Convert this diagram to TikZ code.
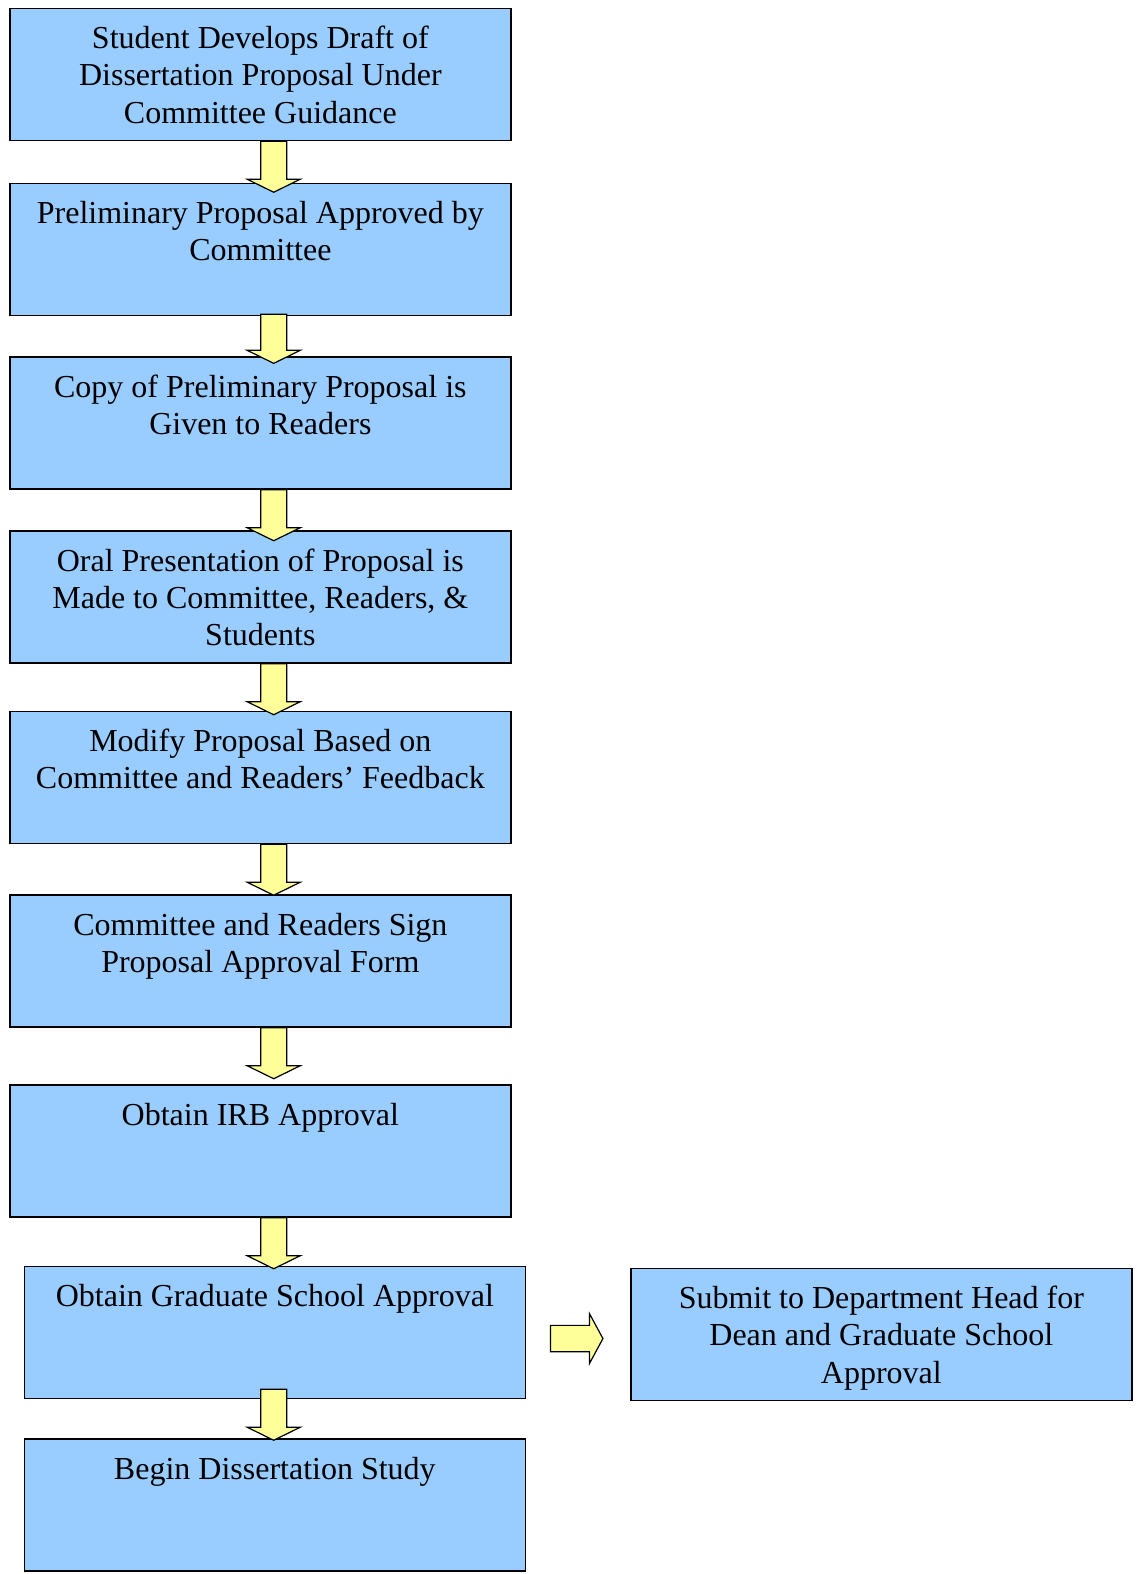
\documentclass[tikz,border=0pt]{standalone}
\usepackage{fontspec}
\setmainfont{Liberation Serif}
\usetikzlibrary{calc}
\definecolor{boxblue}{HTML}{99CCFF}
\definecolor{arryel}{HTML}{FFFF99}
\tikzset{
  stepbox/.style={draw=black, line width=1.3pt, fill=boxblue, minimum width=375.75pt, minimum height=99pt, inner sep=0pt, anchor=north west},
  boxtext/.style={anchor=base, inner sep=0pt, font=\fontsize{24pt}{28pt}\selectfont},
  yarr/.style={draw=black, line width=0.9pt, fill=arryel, line join=miter},
}
\newcommand\bt[1]{\parbox[t]{370pt}{\centering #1}}
\newcommand\dnarr[2]{\draw[yarr] (#1) ++(-13,0) -- ++(0,#2) -- ++(-13.5,0) -- ++(26.5,13) -- ++(26.5,-13) -- ++(-13.5,0) -- ++(0,-#2) -- cycle;}
\begin{document}
\begin{tikzpicture}[x=0.75pt,y=-0.75pt]
\useasboundingbox (0,0) rectangle (1136,1574);
\coordinate (ax) at (273.7,0);
\node[stepbox] (b1) at (9,7.5) {};
\node[stepbox] (b2) at (9,182.6) {};
\node[stepbox] (b3) at (9,356) {};
\node[stepbox] (b4) at (9,530) {};
\node[stepbox] (b5) at (9,710.5) {};
\node[stepbox] (b6) at (9,894) {};
\node[stepbox] (b7) at (9,1084) {};
\node[stepbox] (b8) at (23.5,1265.5) {};
\node[stepbox] (b9) at (23.5,1438) {};
\node[stepbox] (b10) at (630,1267.5) {};
\node[boxtext] (t1) at ($(b1.north)+(0,41)$) {\bt{Student Develops Draft of\\Dissertation Proposal Under\\Committee Guidance}};
\node[boxtext] (t2) at ($(b2.north)+(0,41)$) {\bt{Preliminary Proposal Approved by\\Committee}};
\node[boxtext] (t3) at ($(b3.north)+(0,41)$) {\bt{Copy of Preliminary Proposal is\\Given to Readers}};
\node[boxtext] (t4) at ($(b4.north)+(0,41)$) {\bt{Oral Presentation of Proposal is\\Made to Committee, Readers, \&\\Students}};
\node[boxtext] (t5) at ($(b5.north)+(0,41)$) {\bt{Modify Proposal Based on\\Committee and Readers’ Feedback}};
\node[boxtext] (t6) at ($(b6.north)+(0,41)$) {\bt{Committee and Readers Sign\\Proposal Approval Form}};
\node[boxtext] (t7) at ($(b7.north)+(0,41)$) {\bt{Obtain IRB Approval}};
\node[boxtext] (t8) at ($(b8.north)+(0,41)$) {\bt{Obtain Graduate School Approval}};
\node[boxtext] (t9) at ($(b9.north)+(0,41)$) {\bt{Begin Dissertation Study}};
\node[boxtext] (t10) at ($(b10.north)+(0,41)$) {\bt{Submit to Department Head for\\Dean and Graduate School\\Approval}};
\dnarr{b1.south -| ax}{38}
\dnarr{$(b2.south -| ax)+(0,-2)$}{36}
\dnarr{b3.south -| ax}{38}
\dnarr{b4.south -| ax}{38}
\dnarr{b5.south -| ax}{38}
\dnarr{b6.south -| ax}{38}
\dnarr{b7.south -| ax}{38}
\dnarr{$(b8.south -| ax)+(0,-10)$}{38}
\draw[yarr] ($(b8.east)+(24.3,-7)$) -- ++(39,0) -- ++(0,-11.6) -- ++(13.4,24.8) -- ++(-13.4,24.8) -- ++(0,-11.6) -- ++(-39,0) -- cycle;
\end{tikzpicture}
\end{document}
